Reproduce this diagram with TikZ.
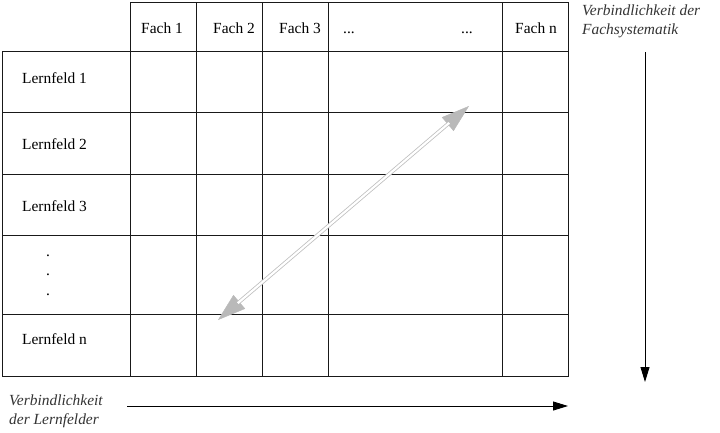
\documentclass[tikz,border=0pt]{standalone}
\usepackage{fontspec}
\setmainfont{Liberation Serif}
\usetikzlibrary{arrows.meta}

\tikzset{
    gridline/.style = {line width = 1bp, black!90},
    cell/.style = {inner sep = 0pt, anchor = base, font = \fontsize{15.5}{18}\selectfont},
    rowhead/.style = {inner sep = 0pt, anchor = base west, font = \fontsize{15.5}{18}\selectfont},
    axislabel/.style = {inner sep = 0pt, anchor = north west, align = left,
        font = \fontsize{15.5}{19}\selectfont\itshape, text = black!80},
    axisarrow/.style = {line width = 0.9bp, -{Triangle[length = 15bp, width = 9bp]}},
    diagtip/.style = {line width = 0.4bp, gray!55,
        {Triangle[length = 28bp, width = 18bp]}-{Triangle[length = 28bp, width = 18bp]}},
    diagshaft/.style = {line width = 0.8bp, draw = gray!50, double = white,
        double distance = 2.2bp, shorten < = 26bp, shorten > = 26bp}
}

\begin{document}
\begin{tikzpicture}[x = 1bp, y = -1bp]
        \useasboundingbox (0,0) rectangle (720,432);

        % table
        \draw [gridline] (130,2) rectangle (568,376);
        \draw [gridline] (2,51) rectangle (130,376);
        \draw [gridline] (130,51) -- (568,51);
        \foreach \y in {112, 174, 235, 314}
            \draw [gridline] (2,\y) -- (568,\y);
        \foreach \x in {196, 262, 328, 502}
            \draw [gridline] (\x,2) -- (\x,376);

        \node [cell] (fach1) at (162,33) {Fach 1};
        \node [cell] (fach2) at (234,33) {Fach 2};
        \node [cell] (fach3) at (300,33) {Fach 3};
        \node [cell] (dotsA) at (349,33) {...};
        \node [cell] (dotsB) at (467,33) {...};
        \node [cell] (fachn) at (536,33) {Fach n};

        \node [rowhead] (lf1) at (22,83) {Lernfeld 1};
        \node [rowhead] (lf2) at (22,149) {Lernfeld 2};
        \node [rowhead] (lf3) at (22,211) {Lernfeld 3};
        \node [rowhead] (lfdots) at (46,256) {.};
        \node [rowhead] (lfdots2) at (46,275) {.};
        \node [rowhead] (lfdots3) at (46,295) {.};
        \node [rowhead] (lfn) at (22,344) {Lernfeld n};

        % axes
        \node [axislabel] (fachsys) at (582,5) {Verbindlichkeit der\\Fachsystematik};
        \node [axislabel] (lernf) at (9,395) {Verbindlichkeit\\der Lernfelder};

        \coordinate (vTop) at (645,52);
        \coordinate (vEnd) at (645,382);
        \coordinate (hStart) at (127,406);
        \coordinate (hEnd) at (568,406);
        \draw [axisarrow] (vTop) -- (vEnd);
        \draw [axisarrow] (hStart) -- (hEnd);

        % diagonal double arrow
        \coordinate (diagTop) at (469,106);
        \coordinate (diagBot) at (218,320);
        \draw [diagtip] (diagBot) -- (diagTop);
        \draw [diagshaft] (diagBot) -- (diagTop);
\end{tikzpicture}
\end{document}
